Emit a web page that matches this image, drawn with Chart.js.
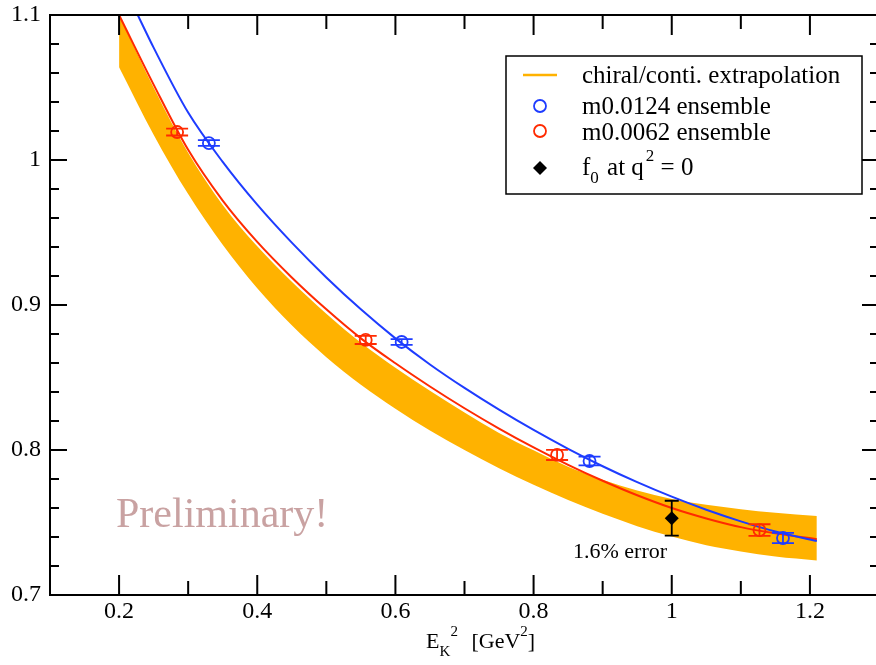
<!DOCTYPE html>
<html><head><meta charset="utf-8">
<script src="https://cdn.jsdelivr.net/npm/chart.js@4/dist/chart.umd.min.js"></script>
<style>html,body{margin:0;padding:0;background:#fff;overflow:hidden;width:876px;height:665px}canvas{display:block}</style>
</head><body>
<canvas id="c" width="900" height="665" style="width:900px;height:665px"></canvas>
<script>
// ---- data ----
const bandX     = [0.2,0.25,0.3,0.35,0.4,0.45,0.5,0.55,0.6,0.65,0.7,0.75,0.8,0.85,0.9,0.95,1.0,1.05,1.1,1.15,1.21];
const bandUpper = [1.100,1.050,1.005,0.969,0.9405,0.916,0.894,0.874,0.8568,0.8408,0.8258,0.8118,0.7998,0.7885,0.7795,0.7720,0.7662,0.7622,0.7592,0.7567,0.7545];
const bandLower = [1.064,1.0175,0.9765,0.9415,0.9115,0.886,0.864,0.845,0.8285,0.8135,0.800,0.7875,0.776,0.7655,0.756,0.7475,0.7403,0.7343,0.730,0.7265,0.7238];
const redLineX  = [0.2,0.25,0.3,0.35,0.4,0.45,0.5,0.55,0.6,0.65,0.7,0.75,0.8,0.85,0.9,0.95,1.0,1.05,1.1,1.15,1.21];
const redLineY  = [1.100,1.052,1.007,0.972,0.9435,0.919,0.897,0.877,0.8598,0.8438,0.8288,0.8148,0.8018,0.7898,0.7788,0.7688,0.7600,0.7528,0.7468,0.7425,0.7385];
const blueLineX = [0.227,0.25,0.3,0.35,0.4,0.45,0.5,0.55,0.6,0.65,0.7,0.75,0.8,0.85,0.9,0.95,1.0,1.05,1.1,1.15,1.21];
const blueLineY = [1.100,1.0775,1.0327,0.9987,0.9692,0.9430,0.9190,0.8970,0.8770,0.8590,0.8428,0.8278,0.8138,0.8008,0.7888,0.7778,0.7678,0.7588,0.7508,0.7438,0.7372];
const blueX   = [0.330,0.609,0.881,1.161];
const blueY   = [1.0117,0.8745,0.7924,0.7393];
const blueErr = [0.002,0.002,0.003,0.0035];
const redX    = [0.284,0.557,0.834,1.127];
const redY    = [1.0193,0.8759,0.7966,0.7448];
const redErr  = [0.0024,0.0028,0.0035,0.004];
const f0X   = [1.0];
const f0Y   = [0.753];
const f0Err = [0.012];
const xMajor = [0.2,0.4,0.6,0.8,1.0,1.2];
const xMajorLabels = ['0.2','0.4','0.6','0.8','1','1.2'];
const xMinor = [0.3,0.5,0.7,0.9,1.1];
const yMajor = [0.7,0.8,0.9,1.0,1.1];
const yMajorLabels = ['0.7','0.8','0.9','1','1.1'];
const yMinor = [0.72,0.74,0.76,0.78,0.82,0.84,0.86,0.88,0.92,0.94,0.96,0.98,1.02,1.04,1.06,1.08];
const legendLabels = ['chiral/conti. extrapolation','m0.0124 ensemble','m0.0062 ensemble'];

const ORANGE = '#FFB200', RED = '#FF2A00', BLUE = '#1E3CFF';
const pts = (xs, ys) => xs.map((v, i) => ({x: v, y: ys[i]}));
const SERIF = '"Liberation Serif", "Times New Roman", serif';

const deco = {
  id: 'deco',
  afterDatasetsDraw(chart) {
    const {ctx, scales: {x, y}} = chart;
    function eb(xs, ys, es, color, hw) {
      ctx.save();
      ctx.strokeStyle = color; ctx.lineWidth = 1.8;
      xs.forEach((v, i) => {
        const px = x.getPixelForValue(v);
        const y1 = y.getPixelForValue(ys[i] + es[i]);
        const y2 = y.getPixelForValue(ys[i] - es[i]);
        ctx.beginPath();
        ctx.moveTo(px, y1); ctx.lineTo(px, y2);
        ctx.moveTo(px - hw, y1); ctx.lineTo(px + hw, y1);
        ctx.moveTo(px - hw, y2); ctx.lineTo(px + hw, y2);
        ctx.stroke();
      });
      ctx.restore();
    }
    eb(blueX, blueY, blueErr, BLUE, 11);
    eb(redX, redY, redErr, RED, 11);
    eb(f0X, f0Y, f0Err, '#000', 7);
  },
  afterDraw(chart) {
    const {ctx, scales: {x, y}, chartArea: a} = chart;
    ctx.save();
    ctx.strokeStyle = '#000'; ctx.lineWidth = 2;
    ctx.strokeRect(a.left, a.top, a.right - a.left, a.bottom - a.top);
    ctx.beginPath();
    xMajor.forEach(v => { const p = x.getPixelForValue(v);
      ctx.moveTo(p, a.bottom); ctx.lineTo(p, a.bottom - 20);
      ctx.moveTo(p, a.top); ctx.lineTo(p, a.top + 20); });
    xMinor.forEach(v => { const p = x.getPixelForValue(v);
      ctx.moveTo(p, a.bottom); ctx.lineTo(p, a.bottom - 14);
      ctx.moveTo(p, a.top); ctx.lineTo(p, a.top + 14); });
    yMajor.forEach(v => { const p = y.getPixelForValue(v);
      ctx.moveTo(a.left, p); ctx.lineTo(a.left + 17, p);
      ctx.moveTo(a.right, p); ctx.lineTo(a.right - 17, p); });
    yMinor.forEach(v => { const p = y.getPixelForValue(v);
      ctx.moveTo(a.left, p); ctx.lineTo(a.left + 9, p);
      ctx.moveTo(a.right, p); ctx.lineTo(a.right - 9, p); });
    ctx.stroke();

    ctx.fillStyle = '#000';
    ctx.font = '24px ' + SERIF;
    ctx.textAlign = 'center'; ctx.textBaseline = 'alphabetic';
    xMajor.forEach((v, i) => ctx.fillText(xMajorLabels[i], x.getPixelForValue(v), 618));
    ctx.textAlign = 'right'; ctx.textBaseline = 'middle';
    yMajor.forEach((v, i) => ctx.fillText(yMajorLabels[i], 41, y.getPixelForValue(v)));

    // axis title E_K^2 [GeV^2]
    ctx.textAlign = 'left'; ctx.textBaseline = 'alphabetic';
    let cx = 426;
    ctx.font = '22px ' + SERIF; ctx.fillText('E', cx, 648); cx += ctx.measureText('E').width;
    ctx.font = '15px ' + SERIF; ctx.fillText('K', cx, 656);
    ctx.fillText('2', cx + 11, 636); cx += 26;
    ctx.font = '22px ' + SERIF; ctx.fillText('[GeV', cx + 6, 648); cx += 6 + ctx.measureText('[GeV').width;
    ctx.font = '15px ' + SERIF; ctx.fillText('2', cx, 636); cx += ctx.measureText('2').width;
    ctx.font = '22px ' + SERIF; ctx.fillText(']', cx, 648);

    // legend
    ctx.lineWidth = 1.5; ctx.strokeStyle = '#000';
    ctx.strokeRect(506, 56, 356, 138);
    ctx.strokeStyle = ORANGE; ctx.lineWidth = 2.5;
    ctx.beginPath(); ctx.moveTo(523, 75); ctx.lineTo(557, 75); ctx.stroke();
    ctx.lineWidth = 1.8;
    ctx.strokeStyle = BLUE; ctx.beginPath(); ctx.arc(540, 106, 6, 0, Math.PI * 2); ctx.stroke();
    ctx.strokeStyle = RED; ctx.beginPath(); ctx.arc(540, 131, 6, 0, Math.PI * 2); ctx.stroke();
    ctx.fillStyle = '#000';
    ctx.beginPath(); ctx.moveTo(540, 161); ctx.lineTo(547, 168); ctx.lineTo(540, 175); ctx.lineTo(533, 168); ctx.closePath(); ctx.fill();
    ctx.font = '25px ' + SERIF;
    ctx.fillText(legendLabels[0], 582, 83);
    ctx.fillText(legendLabels[1], 582, 114);
    ctx.fillText(legendLabels[2], 582, 140);
    let lx = 582;
    ctx.fillText('f', lx, 175); lx += ctx.measureText('f').width;
    ctx.font = '17px ' + SERIF; ctx.fillText('0', lx, 183); lx += ctx.measureText('0').width + 2;
    ctx.font = '25px ' + SERIF; ctx.fillText(' at q', lx, 175); lx += ctx.measureText(' at q').width + 2;
    ctx.font = '17px ' + SERIF; ctx.fillText('2', lx, 161); lx += ctx.measureText('2').width;
    ctx.font = '25px ' + SERIF; ctx.fillText(' = 0', lx, 175);

    // annotations
    ctx.font = '22px ' + SERIF; ctx.fillStyle = '#000';
    ctx.fillText('1.6% error', 573, 558);
    ctx.font = '42px ' + SERIF; ctx.fillStyle = '#C9A2A2';
    ctx.fillText('Preliminary!', 116, 527);
    ctx.restore();
  }
};

function build() {
  new Chart(document.getElementById('c'), {
    type: 'scatter',
    data: {
      datasets: [
        {label: 'lower', order: 10, data: pts(bandX, bandLower), showLine: true, borderWidth: 0, pointRadius: 0, fill: false, cubicInterpolationMode: 'monotone', borderColor: 'rgba(0,0,0,0)'},
        {label: legendLabels[0], order: 9, data: pts(bandX, bandUpper), showLine: true, borderWidth: 0, pointRadius: 0, fill: '-1', backgroundColor: ORANGE, borderColor: 'rgba(0,0,0,0)', cubicInterpolationMode: 'monotone'},
        {label: 'red line', order: 5, data: pts(redLineX, redLineY), showLine: true, borderColor: RED, borderWidth: 2, pointRadius: 0, cubicInterpolationMode: 'monotone'},
        {label: 'blue line', order: 4, data: pts(blueLineX, blueLineY), showLine: true, borderColor: BLUE, borderWidth: 2, pointRadius: 0, cubicInterpolationMode: 'monotone'},
        {label: legendLabels[1], order: 2, data: pts(blueX, blueY), pointRadius: 6, pointBorderWidth: 1.8, pointBorderColor: BLUE, pointBackgroundColor: 'rgba(0,0,0,0)'},
        {label: legendLabels[2], order: 1, data: pts(redX, redY), pointRadius: 6, pointBorderWidth: 1.8, pointBorderColor: RED, pointBackgroundColor: 'rgba(0,0,0,0)'},
        {label: 'f0', order: 0, data: pts(f0X, f0Y), pointStyle: 'rectRot', pointRadius: 7, pointBorderWidth: 0, pointBackgroundColor: '#000', pointBorderColor: '#000'}
      ]
    },
    options: {
      responsive: false, animation: false,
      layout: {padding: {left: 50, top: 15, right: 21, bottom: 70}},
      plugins: {legend: {display: false}, tooltip: {enabled: false}},
      scales: {
        x: {type: 'linear', min: 0.1, max: 1.3, display: false},
        y: {type: 'linear', min: 0.7, max: 1.1, display: false}
      }
    },
    plugins: [deco]
  });
}
if (document.fonts && document.fonts.load) {
  Promise.all([document.fonts.load('24px "Liberation Serif"')]).then(build, build);
} else { build(); }
</script>
</body></html>
